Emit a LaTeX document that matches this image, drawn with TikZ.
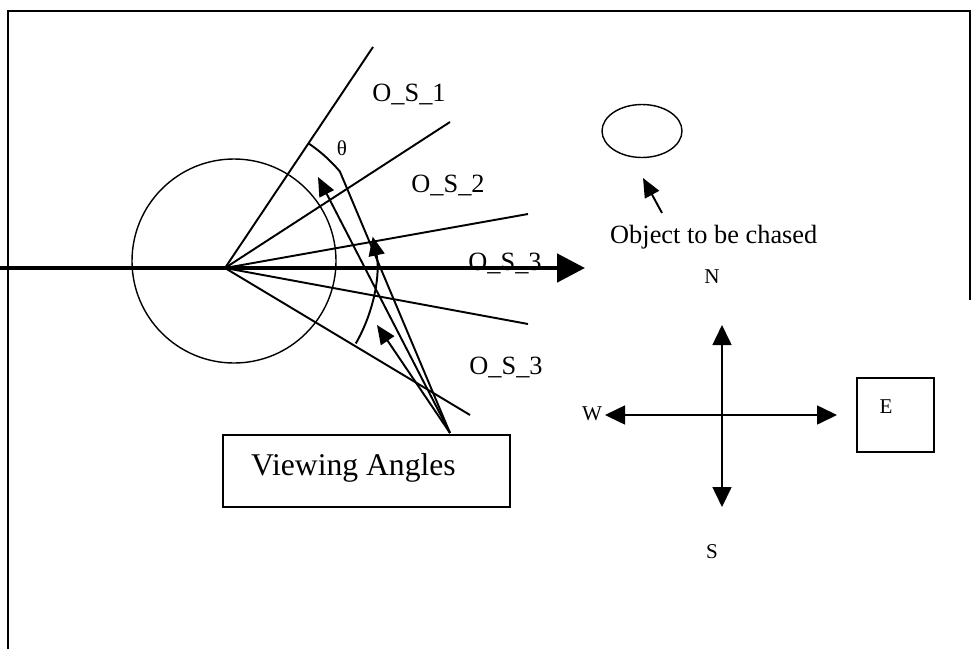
\documentclass[tikz,border=0pt]{standalone}
\usepackage{fontspec}
\setmainfont{Liberation Serif}
\usetikzlibrary{arrows.meta, calc, positioning, shapes.geometric}
\tikzset{
    strahl/.style={line width=1.1pt},
    pfeil/.style={line width=1.1pt, -{Triangle[length=0.38cm, width=0.32cm]}},
    kompass/.style={line width=0.9pt, {Triangle[length=0.4cm, width=0.38cm]}-{Triangle[length=0.4cm, width=0.38cm]}},
    kasten/.style={draw, line width=0.9pt, inner sep=0pt}
}

\begin{document}
\begin{tikzpicture}[x=0.02cm, y=-0.02cm, font=\fontsize{15}{18}\selectfont]
\useasboundingbox (0,0) rectangle (972,649);

% Rahmen
\draw[line width=1.2pt] (8,649) -- (8,11) -- (970,11) -- (970,300);

% Ursprung, Strahlenenden und Spitze
\coordinate (O) at (225,268);
\coordinate (S1) at (373,47);
\coordinate (S2) at (450,122);
\coordinate (S3) at (528,214);
\coordinate (S4) at (528,324);
\coordinate (S5) at (470,415);
\coordinate (P) at (450,433);

% Kreis um den Ursprung
\draw[line width=0.8pt] (234,261) circle (102);

% Beschriftung der Sektoren (O_S_3 oben liegt unter dem Pfeil)
\node[anchor=base] (os1) at (409,101) {O\_S\_1};
\node[anchor=base] (os2) at (448,192) {O\_S\_2};
\node[anchor=base] (os3) at (505,270) {O\_S\_3};
\node[anchor=base] (os4) at (506,374) {O\_S\_3};

% Dicker Pfeil
\coordinate (L) at (0,268);
\coordinate (R) at (585,268);
\draw[line width=2.8pt, -{Triangle[length=0.56cm, width=0.56cm]}] (L) -- (R);

% Strahlen
\foreach \s in {S1,S2,S3,S4,S5}
    \draw[strahl] (O) -- (\s);

% Winkel theta (Bogen, dann zur Spitze)
\draw[strahl] (O) ++(-56:150) arc[start angle=-56, end angle=-40, radius=150] -- (P);
\node[anchor=base, font=\fontsize{12}{14}\selectfont] (theta) at (342,155) {θ};

% Blickpfeile
\coordinate (A1) at (318,177);
\coordinate (A3) at (377,325);
\draw[pfeil] (P) -- (A1);
\draw[pfeil] (P) -- (A3);
\draw[pfeil] (O) ++(30:151) arc[start angle=30, end angle=-12, radius=151];

% Kasten Viewing Angles
\node[kasten, minimum width=5.74cm, minimum height=1.44cm] (vbox) at (366.5,471) {};
\node[anchor=base west, font=\fontsize{18}{21}\selectfont] (vtext) at (245,475) {Viewing Angles};

% Objekt
\node[draw, ellipse, line width=0.8pt, minimum width=1.6cm, minimum height=1.06cm, inner sep=0pt] (obj) at (642,131) {};
\coordinate (T) at (662,213);
\coordinate (H) at (643,178);
\draw[pfeil] (T) -- (H);
\node[anchor=base west] (otext) at (604,243) {Object to be chased};

% Kompass
\coordinate (Nk) at (722,325);
\coordinate (Sk) at (722,507);
\coordinate (Wk) at (605,415);
\coordinate (Ek) at (837,415);
\draw[kompass] (Nk) -- (Sk);
\draw[kompass] (Wk) -- (Ek);
\node[anchor=base, font=\fontsize{12}{14}\selectfont] (nl) at (712,283) {N};
\node[anchor=base, font=\fontsize{12}{14}\selectfont] (sl) at (712,558) {S};
\node[anchor=base, font=\fontsize{12}{14}\selectfont] (wl) at (592,420) {W};

% Kasten E
\node[kasten, minimum width=1.54cm, minimum height=1.48cm] (ebox) at (895.5,415) {};
\node[anchor=base, font=\fontsize{12}{14}\selectfont] (el) at (886,413) {E};

\end{tikzpicture}
\end{document}
